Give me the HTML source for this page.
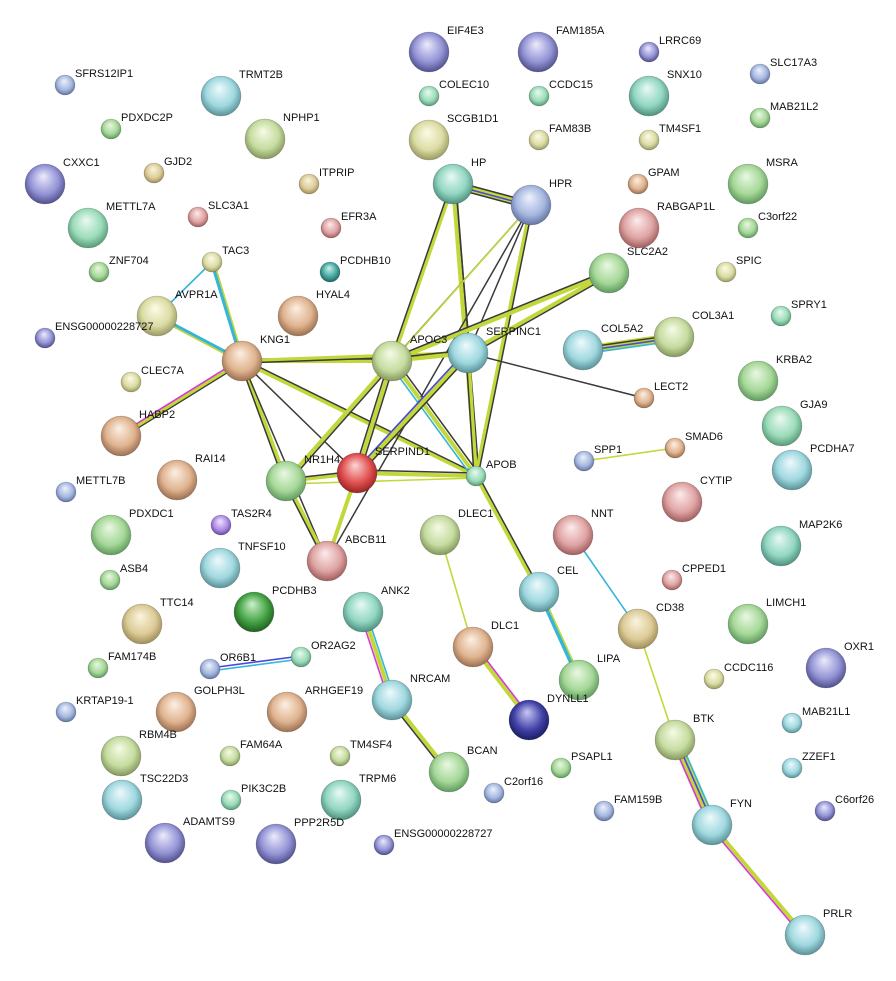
<!DOCTYPE html>
<html><head><meta charset="utf-8"><style>
html,body{margin:0;padding:0;background:#fff}
svg{display:block}
text{font-family:"Liberation Sans",sans-serif;font-size:11px;fill:#111}
line{stroke-linecap:butt}
.y{stroke:#c2d83a;stroke-width:4}
.k{stroke:#3a3a3a;stroke-width:1.5}
.k2{stroke:#3a3a3a;stroke-width:1.3}
.c{stroke:#36b4dc;stroke-width:1.6}
.cw{stroke:#36b4dc;stroke-width:4}
.m{stroke:#d63ad6;stroke-width:1.6}
.b{stroke:#4848e0;stroke-width:1.6}
.yt{stroke:#c2d83a;stroke-width:1.6}
circle{stroke:rgba(0,0,0,0.25);stroke-width:0.6}
</style></head><body>
<svg width="896" height="981" viewBox="0 0 896 981" xmlns="http://www.w3.org/2000/svg">
<defs>
<radialGradient id="gr" cx="50%" cy="45%" r="55%" fx="45%" fy="30%"><stop offset="0" stop-color="#eaf8e4"/><stop offset="0.65" stop-color="#a6d898"/><stop offset="1" stop-color="#5e9a5e"/></radialGradient>
<radialGradient id="tn" cx="50%" cy="45%" r="55%" fx="45%" fy="30%"><stop offset="0" stop-color="#fbf4e0"/><stop offset="0.65" stop-color="#ddcc98"/><stop offset="1" stop-color="#a08e5a"/></radialGradient>
<radialGradient id="bl" cx="50%" cy="45%" r="55%" fx="45%" fy="30%"><stop offset="0" stop-color="#eef2fc"/><stop offset="0.65" stop-color="#a6b8e0"/><stop offset="1" stop-color="#6274a2"/></radialGradient>
<radialGradient id="pu" cx="50%" cy="45%" r="55%" fx="45%" fy="30%"><stop offset="0" stop-color="#ecebfc"/><stop offset="0.65" stop-color="#9494d6"/><stop offset="1" stop-color="#50508e"/></radialGradient>
<radialGradient id="te" cx="50%" cy="45%" r="55%" fx="45%" fy="30%"><stop offset="0" stop-color="#e8faf4"/><stop offset="0.65" stop-color="#92d6c2"/><stop offset="1" stop-color="#4c907e"/></radialGradient>
<radialGradient id="cy" cx="50%" cy="45%" r="55%" fx="45%" fy="30%"><stop offset="0" stop-color="#eefafc"/><stop offset="0.65" stop-color="#a0d8e0"/><stop offset="1" stop-color="#5a9298"/></radialGradient>
<radialGradient id="pk" cx="50%" cy="45%" r="55%" fx="45%" fy="30%"><stop offset="0" stop-color="#fcecec"/><stop offset="0.65" stop-color="#e0a4a4"/><stop offset="1" stop-color="#a05e5e"/></radialGradient>
<radialGradient id="br" cx="50%" cy="45%" r="55%" fx="45%" fy="30%"><stop offset="0" stop-color="#fcf0e4"/><stop offset="0.65" stop-color="#e0b490"/><stop offset="1" stop-color="#9c7050"/></radialGradient>
<radialGradient id="ol" cx="50%" cy="45%" r="55%" fx="45%" fy="30%"><stop offset="0" stop-color="#f6fbe6"/><stop offset="0.65" stop-color="#c6dca0"/><stop offset="1" stop-color="#84985c"/></radialGradient>
<radialGradient id="yl" cx="50%" cy="45%" r="55%" fx="45%" fy="30%"><stop offset="0" stop-color="#fcfce8"/><stop offset="0.65" stop-color="#dcdca6"/><stop offset="1" stop-color="#9a9a62"/></radialGradient>
<radialGradient id="rd" cx="50%" cy="45%" r="55%" fx="45%" fy="30%"><stop offset="0" stop-color="#fcd6d6"/><stop offset="0.65" stop-color="#e05050"/><stop offset="1" stop-color="#982424"/></radialGradient>
<radialGradient id="nv" cx="50%" cy="45%" r="55%" fx="45%" fy="30%"><stop offset="0" stop-color="#c8c8f4"/><stop offset="0.65" stop-color="#4242a8"/><stop offset="1" stop-color="#1c1c64"/></radialGradient>
<radialGradient id="dg" cx="50%" cy="45%" r="55%" fx="45%" fy="30%"><stop offset="0" stop-color="#cdf0cd"/><stop offset="0.65" stop-color="#44a444"/><stop offset="1" stop-color="#206020"/></radialGradient>
<radialGradient id="dt" cx="50%" cy="45%" r="55%" fx="45%" fy="30%"><stop offset="0" stop-color="#cdf0ec"/><stop offset="0.65" stop-color="#44a8a0"/><stop offset="1" stop-color="#1e6660"/></radialGradient>
<radialGradient id="lv" cx="50%" cy="45%" r="55%" fx="45%" fy="30%"><stop offset="0" stop-color="#f0e6fc"/><stop offset="0.65" stop-color="#b08ce6"/><stop offset="1" stop-color="#6a4ca0"/></radialGradient>
<radialGradient id="sg" cx="50%" cy="45%" r="55%" fx="45%" fy="30%"><stop offset="0" stop-color="#eafaf0"/><stop offset="0.65" stop-color="#9cdcba"/><stop offset="1" stop-color="#589a78"/></radialGradient>
</defs>

<!-- edges -->
<line class="c" x1="212" y1="262" x2="157" y2="316"/>
<line class="cw" x1="212" y1="262" x2="242" y2="361"/><line class="yt" x1="214" y1="262" x2="244" y2="361"/>
<line class="cw" x1="157" y1="316" x2="242" y2="361"/><line class="yt" x1="157" y1="318" x2="242" y2="363"/>
<line class="y" x1="242" y1="361" x2="121" y2="436"/><line class="m" x1="241" y1="359" x2="120" y2="434"/><line class="k2" x1="243" y1="363" x2="122" y2="438"/>
<line class="y" x1="242" y1="361" x2="392" y2="361"/><line class="k" x1="242" y1="359" x2="392" y2="359"/>
<line class="y" x1="242" y1="361" x2="468" y2="353"/><line class="k" x1="242" y1="363" x2="468" y2="355"/>
<line class="y" x1="242" y1="361" x2="476" y2="476"/><line class="k" x1="243" y1="359" x2="477" y2="474"/>
<line class="y" x1="242" y1="361" x2="286" y2="481"/><line class="k" x1="240" y1="362" x2="284" y2="482"/>
<line class="k" x1="242" y1="361" x2="327" y2="561"/>
<line class="k" x1="242" y1="361" x2="357" y2="473"/>
<line class="y" x1="453" y1="184" x2="531" y2="205" style="stroke-width:7"/><line class="k" x1="453" y1="181" x2="531" y2="202"/><line class="b" x1="453" y1="185" x2="531" y2="206"/><line class="k" x1="453" y1="188" x2="531" y2="209"/>
<line class="y" x1="453" y1="184" x2="392" y2="361"/><line class="k" x1="451" y1="184" x2="390" y2="361"/>
<line class="y" x1="453" y1="184" x2="468" y2="353"/><line class="k" x1="455" y1="184" x2="470" y2="353"/>
<line class="y" x1="453" y1="184" x2="476" y2="476"/><line class="k" x1="456" y1="184" x2="479" y2="476"/>
<line class="k" x1="531" y1="205" x2="392" y2="361"/>
<line class="yt" x1="531" y1="205" x2="286" y2="481"/>
<line class="k" x1="531" y1="205" x2="468" y2="353"/>
<line class="y" x1="531" y1="205" x2="476" y2="476"/><line class="k" x1="533" y1="205" x2="478" y2="476"/>
<line class="k" x1="531" y1="205" x2="327" y2="561"/>
<line class="y" x1="609" y1="273" x2="392" y2="361"/><line class="k" x1="609" y1="270" x2="392" y2="358"/>
<line class="y" x1="609" y1="273" x2="468" y2="353"/><line class="k" x1="609" y1="276" x2="468" y2="356"/>
<line class="y" x1="392" y1="361" x2="468" y2="353"/><line class="k" x1="392" y1="358" x2="468" y2="350"/>
<line class="y" x1="392" y1="361" x2="286" y2="481"/><line class="k" x1="394" y1="363" x2="288" y2="483"/>
<line class="y" x1="392" y1="361" x2="357" y2="473"/><line class="k" x1="389" y1="361" x2="354" y2="473"/><line class="k" x1="395" y1="361" x2="360" y2="473"/>
<line class="y" x1="392" y1="361" x2="476" y2="476"/><line class="k" x1="395" y1="359" x2="479" y2="474"/><line class="c" x1="389" y1="363" x2="473" y2="478"/>
<line class="k" x1="468" y1="353" x2="644" y2="398"/>
<line class="y" x1="468" y1="353" x2="357" y2="473" style="stroke-width:7"/><line class="b" x1="466" y1="351" x2="355" y2="471"/><line class="k" x1="470" y1="355" x2="359" y2="475"/>
<line class="y" x1="468" y1="353" x2="476" y2="476"/><line class="k" x1="466" y1="353" x2="474" y2="476"/>
<line class="y" x1="286" y1="481" x2="357" y2="473"/><line class="k" x1="286" y1="479" x2="357" y2="471"/>
<line class="yt" x1="286" y1="484" x2="476" y2="478"/>
<line class="y" x1="286" y1="481" x2="327" y2="561"/><line class="k" x1="284" y1="482" x2="325" y2="562"/>
<line class="y" x1="357" y1="473" x2="476" y2="476"/><line class="k" x1="357" y1="470" x2="476" y2="473"/>
<line class="y" x1="357" y1="473" x2="327" y2="561"/>
<line class="y" x1="476" y1="476" x2="539" y2="592"/><line class="k" x1="478" y1="475" x2="541" y2="591"/>
<line class="cw" x1="539" y1="592" x2="579" y2="680"/><line class="yt" x1="541" y1="591" x2="581" y2="679"/>
<line class="yt" x1="440" y1="535" x2="473" y2="647"/>
<line class="y" x1="473" y1="647" x2="529" y2="720"/><line class="m" x1="475" y1="645" x2="531" y2="718"/>
<line class="c" x1="573" y1="535" x2="638" y2="629"/>
<line class="yt" x1="638" y1="629" x2="675" y2="740"/>
<line class="y" x1="675" y1="740" x2="712" y2="825" style="stroke-width:8"/><line class="m" x1="672" y1="741" x2="709" y2="826"/><line class="b" x1="676" y1="739" x2="713" y2="824"/><line class="c" x1="679" y1="738" x2="716" y2="823"/>
<line class="y" x1="712" y1="825" x2="805" y2="935"/><line class="m" x1="710" y1="827" x2="803" y2="937"/>
<line class="y" x1="363" y1="612" x2="392" y2="700"/><line class="m" x1="360" y1="613" x2="389" y2="701"/><line class="c" x1="366" y1="611" x2="395" y2="699"/>
<line class="y" x1="392" y1="700" x2="449" y2="772"/><line class="k" x1="390" y1="702" x2="447" y2="774"/>
<line class="c" x1="210" y1="671" x2="301" y2="659"/><line class="b" x1="210" y1="668" x2="301" y2="656"/>
<line class="y" x1="583" y1="350" x2="674" y2="337" style="stroke-width:8"/><line class="b" x1="583" y1="351" x2="674" y2="338"/><line class="k" x1="583" y1="348" x2="674" y2="335"/><line class="c" x1="583" y1="354" x2="674" y2="341"/>
<line class="yt" x1="584" y1="461" x2="675" y2="448"/>

<!-- nodes -->
<g>
<circle cx="429" cy="52" r="20" fill="url(#pu)"/><text x="447" y="34">EIF4E3</text>
<circle cx="538" cy="52" r="20" fill="url(#pu)"/><text x="556" y="34">FAM185A</text>
<circle cx="649" cy="52" r="10" fill="url(#pu)"/><text x="659" y="44">LRRC69</text>
<circle cx="65" cy="85" r="10" fill="url(#bl)"/><text x="75" y="77">SFRS12IP1</text>
<circle cx="221" cy="96" r="20" fill="url(#cy)"/><text x="239" y="78">TRMT2B</text>
<circle cx="649" cy="96" r="20" fill="url(#te)"/><text x="667" y="78">SNX10</text>
<circle cx="760" cy="74" r="10" fill="url(#bl)"/><text x="770" y="66">SLC17A3</text>
<circle cx="429" cy="96" r="10" fill="url(#sg)"/><text x="439" y="88">COLEC10</text>
<circle cx="539" cy="96" r="10" fill="url(#sg)"/><text x="549" y="88">CCDC15</text>
<circle cx="760" cy="118" r="10" fill="url(#gr)"/><text x="770" y="110">MAB21L2</text>
<circle cx="111" cy="129" r="10" fill="url(#gr)"/><text x="121" y="121">PDXDC2P</text>
<circle cx="265" cy="139" r="20" fill="url(#ol)"/><text x="283" y="121">NPHP1</text>
<circle cx="429" cy="140" r="20" fill="url(#yl)"/><text x="447" y="122">SCGB1D1</text>
<circle cx="539" cy="140" r="10" fill="url(#yl)"/><text x="549" y="132">FAM83B</text>
<circle cx="649" cy="140" r="10" fill="url(#yl)"/><text x="659" y="132">TM4SF1</text>
<circle cx="45" cy="184" r="20" fill="url(#pu)"/><text x="63" y="166">CXXC1</text>
<circle cx="154" cy="173" r="10" fill="url(#tn)"/><text x="164" y="165">GJD2</text>
<circle cx="309" cy="184" r="10" fill="url(#tn)"/><text x="319" y="176">ITPRIP</text>
<circle cx="453" cy="184" r="20" fill="url(#te)"/><text x="471" y="166">HP</text>
<circle cx="531" cy="205" r="20" fill="url(#bl)"/><text x="549" y="187">HPR</text>
<circle cx="638" cy="184" r="10" fill="url(#br)"/><text x="648" y="176">GPAM</text>
<circle cx="748" cy="184" r="20" fill="url(#gr)"/><text x="766" y="166">MSRA</text>
<circle cx="88" cy="228" r="20" fill="url(#sg)"/><text x="106" y="210">METTL7A</text>
<circle cx="198" cy="217" r="10" fill="url(#pk)"/><text x="208" y="209">SLC3A1</text>
<circle cx="331" cy="228" r="10" fill="url(#pk)"/><text x="341" y="220">EFR3A</text>
<circle cx="639" cy="228" r="20" fill="url(#pk)"/><text x="657" y="210">RABGAP1L</text>
<circle cx="748" cy="228" r="10" fill="url(#gr)"/><text x="758" y="220">C3orf22</text>
<circle cx="99" cy="272" r="10" fill="url(#gr)"/><text x="109" y="264">ZNF704</text>
<circle cx="212" cy="262" r="10" fill="url(#yl)"/><text x="222" y="254">TAC3</text>
<circle cx="330" cy="272" r="10" fill="url(#dt)"/><text x="340" y="264">PCDHB10</text>
<circle cx="726" cy="272" r="10" fill="url(#yl)"/><text x="736" y="264">SPIC</text>
<circle cx="609" cy="273" r="20" fill="url(#gr)"/><text x="627" y="255">SLC2A2</text>
<circle cx="157" cy="316" r="20" fill="url(#yl)"/><text x="175" y="298">AVPR1A</text>
<circle cx="298" cy="316" r="20" fill="url(#br)"/><text x="316" y="298">HYAL4</text>
<circle cx="781" cy="316" r="10" fill="url(#sg)"/><text x="791" y="308">SPRY1</text>
<circle cx="45" cy="338" r="10" fill="url(#pu)"/><text x="55" y="330">ENSG00000228727</text>
<circle cx="674" cy="337" r="20" fill="url(#ol)"/><text x="692" y="319">COL3A1</text>
<circle cx="583" cy="350" r="20" fill="url(#cy)"/><text x="601" y="332">COL5A2</text>
<circle cx="242" cy="361" r="20" fill="url(#br)"/><text x="260" y="343">KNG1</text>
<circle cx="392" cy="361" r="20" fill="url(#ol)"/><text x="410" y="343">APOC3</text>
<circle cx="468" cy="353" r="20" fill="url(#cy)"/><text x="486" y="335">SERPINC1</text>
<circle cx="131" cy="382" r="10" fill="url(#yl)"/><text x="141" y="374">CLEC7A</text>
<circle cx="758" cy="381" r="20" fill="url(#gr)"/><text x="776" y="363">KRBA2</text>
<circle cx="644" cy="398" r="10" fill="url(#br)"/><text x="654" y="390">LECT2</text>
<circle cx="121" cy="436" r="20" fill="url(#br)"/><text x="139" y="418">HABP2</text>
<circle cx="782" cy="426" r="20" fill="url(#sg)"/><text x="800" y="408">GJA9</text>
<circle cx="675" cy="448" r="10" fill="url(#br)"/><text x="685" y="440">SMAD6</text>
<circle cx="584" cy="461" r="10" fill="url(#bl)"/><text x="594" y="453">SPP1</text>
<circle cx="792" cy="470" r="20" fill="url(#cy)"/><text x="810" y="452">PCDHA7</text>
<circle cx="357" cy="473" r="20" fill="url(#rd)"/><text x="375" y="455">SERPIND1</text>
<circle cx="286" cy="481" r="20" fill="url(#gr)"/><text x="304" y="463">NR1H4</text>
<circle cx="476" cy="476" r="10" fill="url(#sg)"/><text x="486" y="468">APOB</text>
<circle cx="177" cy="480" r="20" fill="url(#br)"/><text x="195" y="462">RAI14</text>
<circle cx="66" cy="492" r="10" fill="url(#bl)"/><text x="76" y="484">METTL7B</text>
<circle cx="682" cy="502" r="20" fill="url(#pk)"/><text x="700" y="484">CYTIP</text>
<circle cx="221" cy="525" r="10" fill="url(#lv)"/><text x="231" y="517">TAS2R4</text>
<circle cx="111" cy="535" r="20" fill="url(#gr)"/><text x="129" y="517">PDXDC1</text>
<circle cx="440" cy="535" r="20" fill="url(#ol)"/><text x="458" y="517">DLEC1</text>
<circle cx="573" cy="535" r="20" fill="url(#pk)"/><text x="591" y="517">NNT</text>
<circle cx="781" cy="546" r="20" fill="url(#te)"/><text x="799" y="528">MAP2K6</text>
<circle cx="327" cy="561" r="20" fill="url(#pk)"/><text x="345" y="543">ABCB11</text>
<circle cx="220" cy="568" r="20" fill="url(#cy)"/><text x="238" y="550">TNFSF10</text>
<circle cx="110" cy="580" r="10" fill="url(#gr)"/><text x="120" y="572">ASB4</text>
<circle cx="672" cy="580" r="10" fill="url(#pk)"/><text x="682" y="572">CPPED1</text>
<circle cx="539" cy="592" r="20" fill="url(#cy)"/><text x="557" y="574">CEL</text>
<circle cx="254" cy="612" r="20" fill="url(#dg)"/><text x="272" y="594">PCDHB3</text>
<circle cx="363" cy="612" r="20" fill="url(#te)"/><text x="381" y="594">ANK2</text>
<circle cx="142" cy="624" r="20" fill="url(#tn)"/><text x="160" y="606">TTC14</text>
<circle cx="748" cy="624" r="20" fill="url(#gr)"/><text x="766" y="606">LIMCH1</text>
<circle cx="638" cy="629" r="20" fill="url(#tn)"/><text x="656" y="611">CD38</text>
<circle cx="473" cy="647" r="20" fill="url(#br)"/><text x="491" y="629">DLC1</text>
<circle cx="301" cy="657" r="10" fill="url(#sg)"/><text x="311" y="649">OR2AG2</text>
<circle cx="98" cy="668" r="10" fill="url(#gr)"/><text x="108" y="660">FAM174B</text>
<circle cx="210" cy="669" r="10" fill="url(#bl)"/><text x="220" y="661">OR6B1</text>
<circle cx="826" cy="668" r="20" fill="url(#pu)"/><text x="844" y="650">OXR1</text>
<circle cx="714" cy="679" r="10" fill="url(#yl)"/><text x="724" y="671">CCDC116</text>
<circle cx="579" cy="680" r="20" fill="url(#gr)"/><text x="597" y="662">LIPA</text>
<circle cx="392" cy="700" r="20" fill="url(#cy)"/><text x="410" y="682">NRCAM</text>
<circle cx="66" cy="712" r="10" fill="url(#bl)"/><text x="76" y="704">KRTAP19-1</text>
<circle cx="176" cy="712" r="20" fill="url(#br)"/><text x="194" y="694">GOLPH3L</text>
<circle cx="287" cy="712" r="20" fill="url(#br)"/><text x="305" y="694">ARHGEF19</text>
<circle cx="529" cy="720" r="20" fill="url(#nv)"/><text x="547" y="702">DYNLL1</text>
<circle cx="792" cy="723" r="10" fill="url(#cy)"/><text x="802" y="715">MAB21L1</text>
<circle cx="675" cy="740" r="20" fill="url(#ol)"/><text x="693" y="722">BTK</text>
<circle cx="121" cy="756" r="20" fill="url(#ol)"/><text x="139" y="738">RBM4B</text>
<circle cx="230" cy="756" r="10" fill="url(#ol)"/><text x="240" y="748">FAM64A</text>
<circle cx="340" cy="756" r="10" fill="url(#ol)"/><text x="350" y="748">TM4SF4</text>
<circle cx="561" cy="768" r="10" fill="url(#gr)"/><text x="571" y="760">PSAPL1</text>
<circle cx="792" cy="768" r="10" fill="url(#cy)"/><text x="802" y="760">ZZEF1</text>
<circle cx="449" cy="772" r="20" fill="url(#gr)"/><text x="467" y="754">BCAN</text>
<circle cx="122" cy="800" r="20" fill="url(#cy)"/><text x="140" y="782">TSC22D3</text>
<circle cx="231" cy="800" r="10" fill="url(#sg)"/><text x="241" y="792">PIK3C2B</text>
<circle cx="341" cy="800" r="20" fill="url(#te)"/><text x="359" y="782">TRPM6</text>
<circle cx="494" cy="793" r="10" fill="url(#bl)"/><text x="504" y="785">C2orf16</text>
<circle cx="604" cy="811" r="10" fill="url(#bl)"/><text x="614" y="803">FAM159B</text>
<circle cx="825" cy="811" r="10" fill="url(#pu)"/><text x="835" y="803">C6orf26</text>
<circle cx="712" cy="825" r="20" fill="url(#cy)"/><text x="730" y="807">FYN</text>
<circle cx="165" cy="843" r="20" fill="url(#pu)"/><text x="183" y="825">ADAMTS9</text>
<circle cx="276" cy="844" r="20" fill="url(#pu)"/><text x="294" y="826">PPP2R5D</text>
<circle cx="384" cy="845" r="10" fill="url(#pu)"/><text x="394" y="837">ENSG00000228727</text>
<circle cx="805" cy="935" r="20" fill="url(#cy)"/><text x="823" y="917">PRLR</text>
</g>
</svg>
</body></html>
